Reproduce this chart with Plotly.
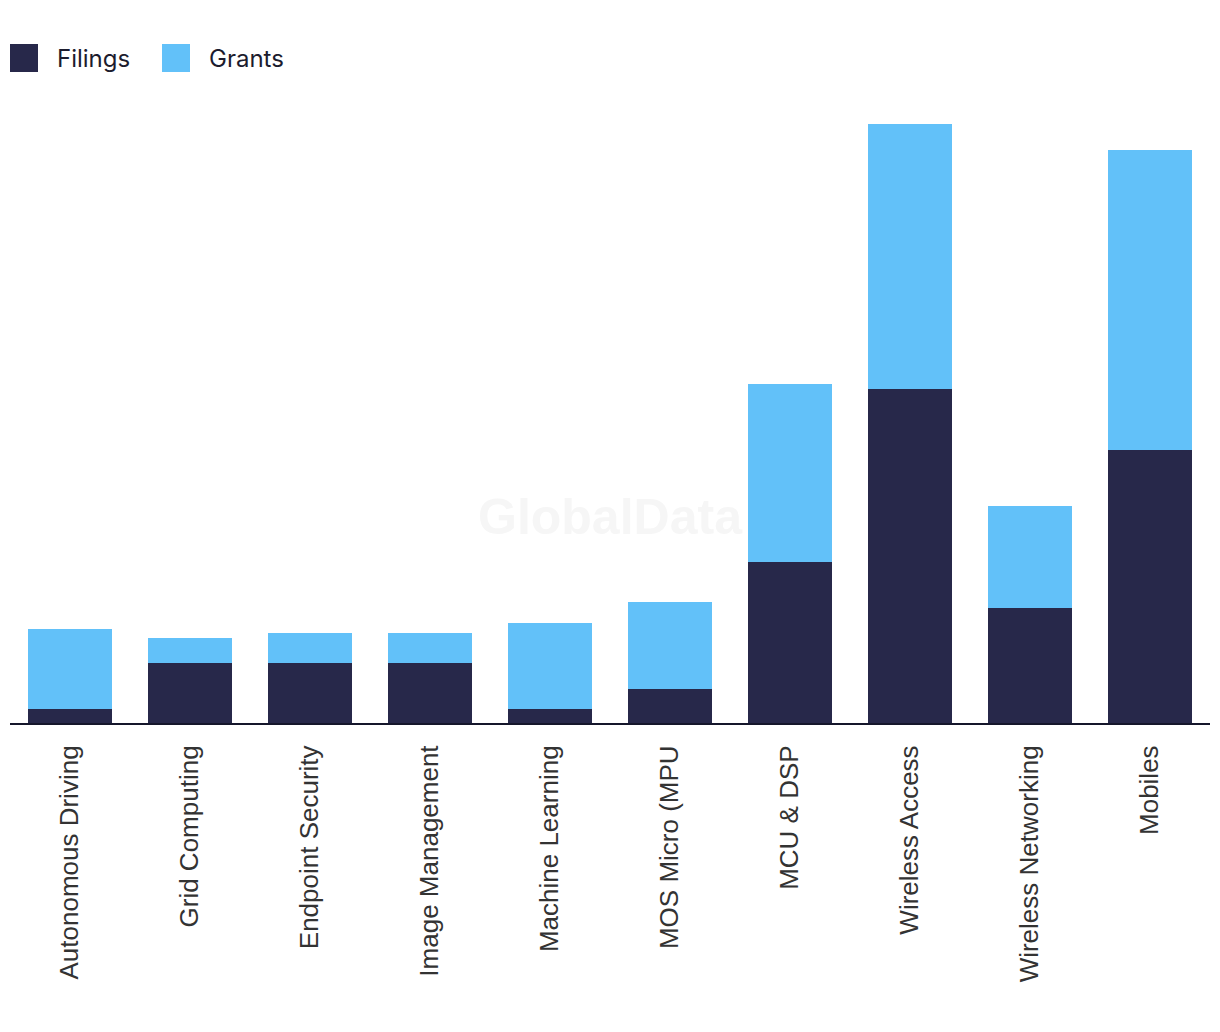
import plotly.graph_objects as go

categories = ["Autonomous Driving", "Grid Computing", "Endpoint Security", "Image Management",
              "Machine Learning", "MOS Micro (MPU", "MCU & DSP", "Wireless Access",
              "Wireless Networking", "Mobiles"]
filings = [14, 60, 60, 60, 14, 34, 161, 334, 115, 273]
grants = [80, 25, 30, 30, 86, 87, 178, 265, 102, 300]

FIL_COLOR = "#27284A"
GRA_COLOR = "#62C1F9"

# page body has an 8px margin; figure is sized to fit the window
W, H = 1212, 1024
L, R, T, B = 2, 10, 92, 309
PW, PH = W - L - R, H - T - B

def px(x):  # screen x -> paper
    return (x - 8 - L) / PW

def py(y):  # screen y -> paper
    return (H - B - (y - 8)) / PH

fig = go.Figure()
fig.add_trace(go.Bar(x=categories, y=filings, name="Filings", marker_color=FIL_COLOR, marker_line_width=0))
fig.add_trace(go.Bar(x=categories, y=grants, name="Grants", marker_color=GRA_COLOR, marker_line_width=0))

fig.update_layout(
    width=W, height=H,
    barmode="stack", bargap=0.3,
    showlegend=False,
    plot_bgcolor="white", paper_bgcolor="white",
    margin=dict(l=L, r=R, t=T, b=B),
    xaxis=dict(showline=True, linecolor="#15162B", linewidth=2, tickangle=-90,
               ticks="", ticklabelstandoff=10,
               tickfont=dict(family="Liberation Sans, Arial", size=26, color="#333333"),
               showgrid=False, zeroline=False),
    yaxis=dict(visible=False, range=[0, PH], showgrid=False, zeroline=False),
)

# watermark
fig.add_annotation(text="<b>GlobalData</b>", xref="paper", yref="paper", x=px(610), y=py(517),
                   showarrow=False, font=dict(family="Liberation Sans, Arial", size=50, color="#F6F6F6"),
                   xanchor="center", yanchor="middle")

# legend drawn manually
legend_items = [("Filings", FIL_COLOR, 10, 55), ("Grants", GRA_COLOR, 162, 207)]
for name, col, sx, tx in legend_items:
    fig.add_shape(type="rect", xref="paper", yref="paper",
                  x0=px(sx), x1=px(sx + 28), y0=py(72), y1=py(44),
                  fillcolor=col, line_width=0)
    fig.add_annotation(text=name, xref="paper", yref="paper", x=px(tx), y=py(58),
                       xanchor="left", yanchor="middle", showarrow=False,
                       font=dict(family="Inter, Lato", size=24, color="#1C1C2E"))

fig.write_html("out.html")
